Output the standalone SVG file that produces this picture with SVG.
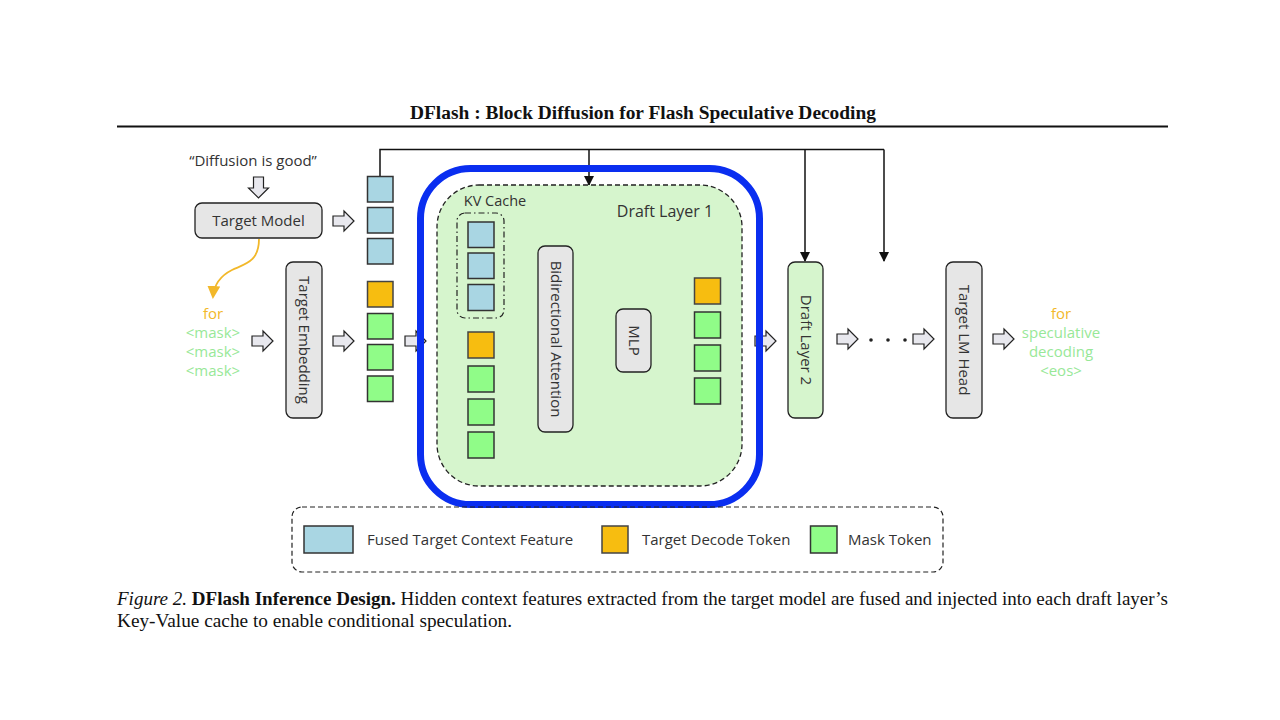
<svg xmlns="http://www.w3.org/2000/svg" width="1280" height="720" viewBox="0 0 1280 720">
<style>
.sans{font-family:"Open Sans","Noto Sans",sans-serif;fill:#333}
.serif{font-family:"Liberation Serif","Times New Roman",serif;fill:#111}
.box{fill:#e6e6e6;stroke:#222;stroke-width:1.3}
.gbox{fill:#d6f5cd;stroke:#222;stroke-width:1.3}
.ctx{fill:#a9d6e3;stroke:#333;stroke-width:1.5}
.dec{fill:#f7bd10;stroke:#444;stroke-width:1.5}
.msk{fill:#90fc88;stroke:#333;stroke-width:1.5}
.barrow{fill:#e8e8ee;stroke:#222;stroke-width:1.2}
.conn{fill:none;stroke:#111;stroke-width:1.5}
.lbl{font-size:15px;text-anchor:middle}
.or{fill:#f2b82a}
.gr{fill:#98e898}
</style>
<defs>
<path id="ba" d="M0,-5 H11 V-10 L21,0 L11,10 V5 H0 Z"/>
<marker id="tri" markerWidth="10" markerHeight="10" refX="9" refY="5" orient="auto" markerUnits="userSpaceOnUse">
<path d="M0,0 L10,5 L0,10 Z" fill="#111"/>
</marker>
<marker id="otri" markerWidth="13" markerHeight="13" refX="11" refY="6.5" orient="auto" markerUnits="userSpaceOnUse">
<path d="M0,0 L13,6.5 L0,13 Z" fill="#f2b82a"/>
</marker>
</defs>
<rect width="1280" height="720" fill="#fff"/>

<g id="title">
<text x="643" y="119" class="serif" font-size="18.5" font-weight="bold" text-anchor="middle" textLength="466" lengthAdjust="spacingAndGlyphs">DFlash : Block Diffusion for Flash Speculative Decoding</text>
<line x1="117" y1="126.5" x2="1168" y2="126.5" stroke="#111" stroke-width="2"/>
</g>

<g id="connectors">
<polyline class="conn" points="380,176 380,149.5 884,149.5"/>
<line class="conn" x1="589" y1="149.5" x2="589" y2="185" marker-end="url(#tri)"/>
<line class="conn" x1="805" y1="149.5" x2="805" y2="261" marker-end="url(#tri)"/>
<line class="conn" x1="884" y1="149.5" x2="884" y2="261" marker-end="url(#tri)"/>
<path d="M259,239 C259,262 245,264 232,270 C220,276 214,284 213,297" fill="none" stroke="#f2b82a" stroke-width="1.8" marker-end="url(#otri)"/>
<use href="#ba" class="barrow" transform="translate(258.5,177) rotate(90)"/>
<use href="#ba" class="barrow" transform="translate(333,221)"/>
<use href="#ba" class="barrow" transform="translate(252,341)"/>
<use href="#ba" class="barrow" transform="translate(333,341)"/>
<use href="#ba" class="barrow" transform="translate(405,341)"/>
<use href="#ba" class="barrow" transform="translate(506,341)"/>
<use href="#ba" class="barrow" transform="translate(584,341)"/>
<use href="#ba" class="barrow" transform="translate(662,341)"/>
<use href="#ba" class="barrow" transform="translate(755,341)"/>
<use href="#ba" class="barrow" transform="translate(837,339)"/>
<use href="#ba" class="barrow" transform="translate(913,339)"/>
<use href="#ba" class="barrow" transform="translate(993,339)"/>
<circle cx="871" cy="340" r="1.8" fill="#222"/>
<circle cx="888" cy="340" r="1.8" fill="#222"/>
<circle cx="905" cy="340" r="1.8" fill="#222"/>
</g>

<g id="input-text">
<text x="253" y="166" class="sans" font-size="15" text-anchor="middle">“Diffusion is good”</text>
</g>

<g id="target-model">
<rect x="195" y="203" width="127" height="35" rx="7" class="box"/>
<text x="258.5" y="226" class="sans lbl">Target Model</text>
</g>

<g id="mask-input">
<text x="213" y="319" class="sans lbl or">for</text>
<text x="213" y="338" class="sans lbl gr">&lt;mask&gt;</text>
<text x="213" y="357" class="sans lbl gr">&lt;mask&gt;</text>
<text x="213" y="376" class="sans lbl gr">&lt;mask&gt;</text>
</g>

<g id="target-embedding">
<rect x="286" y="262" width="36" height="156" rx="7" class="box"/>
<text transform="translate(304,340) rotate(90)" y="5" class="sans lbl">Target Embedding</text>
</g>

<g id="token-column">
<rect x="367.5" y="176.5" width="25.5" height="25.5" class="ctx"/>
<rect x="367.5" y="207.5" width="25.5" height="25.5" class="ctx"/>
<rect x="367.5" y="238.5" width="25.5" height="25.5" class="ctx"/>
<rect x="367.5" y="281.5" width="25.5" height="25.5" class="dec"/>
<rect x="367.5" y="313.5" width="25.5" height="25.5" class="msk"/>
<rect x="367.5" y="344.5" width="25.5" height="25.5" class="msk"/>
<rect x="367.5" y="376" width="25.5" height="25.5" class="msk"/>
</g>

<g id="draft-layer-1">
<rect x="437" y="185" width="305" height="301" rx="42" fill="#d6f5cd" stroke="#222" stroke-width="1.3" stroke-dasharray="5,3"/>
<rect x="420.5" y="168.5" width="339" height="336" rx="50" fill="none" stroke="#0a2ef0" stroke-width="7"/>
<text x="665" y="217" class="sans" font-size="16" text-anchor="middle">Draft Layer 1</text>
</g>

<g id="kv-cache">
<text x="495" y="206" class="sans" font-size="14.5" text-anchor="middle">KV Cache</text>
<rect x="457" y="213" width="47" height="105" rx="8" fill="none" stroke="#222" stroke-width="1.2" stroke-dasharray="6,3,1.5,3"/>
<rect x="468" y="222" width="26" height="25.5" class="ctx"/>
<rect x="468" y="253" width="26" height="25.5" class="ctx"/>
<rect x="468" y="284.5" width="26" height="26" class="ctx"/>
</g>

<g id="draft-input-tokens">
<rect x="468" y="332" width="26" height="26" class="dec"/>
<rect x="468" y="366" width="26" height="26" class="msk"/>
<rect x="468" y="399" width="26" height="26" class="msk"/>
<rect x="468" y="432" width="26" height="26" class="msk"/>
</g>

<g id="bidirectional-attention">
<rect x="538" y="246" width="35" height="186" rx="7" class="box"/>
<text transform="translate(555.5,339) rotate(90)" y="5" class="sans lbl">Bidirectional Attention</text>
</g>

<g id="mlp">
<rect x="616" y="309" width="35" height="63" rx="7" class="box"/>
<text transform="translate(633.5,340.5) rotate(90)" y="5" class="sans lbl">MLP</text>
</g>

<g id="draft-output-tokens">
<rect x="694.5" y="278" width="26" height="26" class="dec"/>
<rect x="694.5" y="312" width="26" height="26" class="msk"/>
<rect x="694.5" y="345" width="26" height="26" class="msk"/>
<rect x="694.5" y="378" width="26" height="26" class="msk"/>
</g>

<g id="draft-layer-2">
<rect x="788" y="262" width="35" height="156" rx="7" class="gbox"/>
<text transform="translate(805.5,340) rotate(90)" y="5" class="sans lbl">Draft Layer 2</text>
</g>

<g id="target-lm-head">
<rect x="946" y="262" width="36" height="156" rx="7" class="box"/>
<text transform="translate(964,340) rotate(90)" y="5" class="sans lbl">Target LM Head</text>
</g>

<g id="output-text">
<text x="1061" y="319" class="sans lbl or">for</text>
<text x="1061" y="338" class="sans lbl gr">speculative</text>
<text x="1061" y="357" class="sans lbl gr">decoding</text>
<text x="1061" y="376" class="sans lbl gr">&lt;eos&gt;</text>
</g>

<g id="legend">
<rect x="292" y="507" width="651" height="65" rx="10" fill="none" stroke="#222" stroke-width="1.2" stroke-dasharray="5,3"/>
<rect x="304" y="526" width="49" height="27" class="ctx"/>
<text x="367" y="545" class="sans" font-size="15">Fused Target Context Feature</text>
<rect x="602" y="526" width="26" height="27" class="dec"/>
<text x="642" y="545" class="sans" font-size="15">Target Decode Token</text>
<rect x="810.5" y="526" width="26.5" height="27" class="msk"/>
<text x="848" y="545" class="sans" font-size="15">Mask Token</text>
</g>

<g id="caption">
<text x="117" y="605" class="serif" font-size="19" textLength="1051" lengthAdjust="spacingAndGlyphs"><tspan font-style="italic">Figure 2.</tspan> <tspan font-weight="bold">DFlash Inference Design.</tspan> Hidden context features extracted from the target model are fused and injected into each draft layer’s</text>
<text x="117" y="627" class="serif" font-size="19" textLength="395" lengthAdjust="spacingAndGlyphs">Key-Value cache to enable conditional speculation.</text>
</g>
</svg>
